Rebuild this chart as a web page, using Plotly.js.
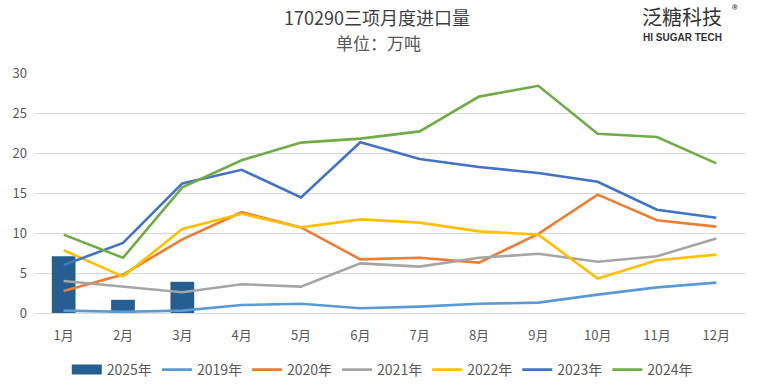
<!DOCTYPE html>
<html>
<head>
<meta charset="utf-8">
<script src="https://cdn.plot.ly/plotly-3.0.1.min.js"></script>
<style>html,body{margin:0;padding:0;background:#fff;}#chart{width:757px;height:387px;}</style>
</head>
<body>
<div id="chart"></div>
<script>
const months = ["1月","2月","3月","4月","5月","6月","7月","8月","9月","10月","11月","12月"];
const y2025 = [7.1, 1.65, 3.9];
const y2019 = [0.3, 0.15, 0.3, 1.0, 1.15, 0.6, 0.8, 1.15, 1.3, 2.3, 3.2, 3.8];
const y2020 = [2.75, 4.8, 9.2, 12.6, 10.7, 6.7, 6.9, 6.3, 9.9, 14.8, 11.6, 10.8];
const y2021 = [4.0, 3.3, 2.6, 3.6, 3.3, 6.2, 5.8, 6.9, 7.4, 6.4, 7.1, 9.3];
const y2022 = [7.85, 4.55, 10.5, 12.4, 10.7, 11.7, 11.3, 10.2, 9.8, 4.3, 6.6, 7.3];
const y2023 = [6.0, 8.75, 16.2, 17.9, 14.45, 21.35, 19.25, 18.25, 17.5, 16.4, 12.9, 11.9];
const y2024 = [9.8, 6.9, 15.7, 19.1, 21.3, 21.8, 22.7, 27.05, 28.4, 22.4, 22.0, 18.7];

const font = "'Noto Sans CJK SC', 'Noto Sans', sans-serif";
const narrow = "'Liberation Sans Narrow', 'Noto Sans CJK SC', sans-serif";
function line(name, y, color) {
  return {type:'scatter', mode:'lines', name:name, x:months.slice(0, y.length), y:y,
          line:{color:color, width:2.6}};
}
const barColor = '#255E91';
const data = [
  {type:'bar', name:'2025年', x:months.slice(0, y2025.length), y:y2025, marker:{color:barColor}, showlegend:false},
  // legend-only entry for the bar series (wide swatch)
  {type:'scatter', mode:'lines', name:'2025年', x:[null], y:[null], line:{color:barColor, width:10}},
  line('2019年', y2019, '#5B9BD5'),
  line('2020年', y2020, '#ED7D31'),
  line('2021年', y2021, '#A5A5A5'),
  line('2022年', y2022, '#FFC000'),
  line('2023年', y2023, '#4472C4'),
  line('2024年', y2024, '#70AD47')
];
const layout = {
  width:757, height:387,
  margin:{l:34, r:11, t:73, b:74},
  paper_bgcolor:'#fff', plot_bgcolor:'#fff',
  font:{family:font, color:'#595959', size:12},
  bargap:0.6,
  showlegend:true,
  legend:{orientation:'h', xref:'container', yref:'container', x:0.505, xanchor:'center',
          y:(387-370)/387, yanchor:'middle',
          font:{size:14, color:'#595959', family:narrow}, traceorder:'normal', itemwidth:30, tracegroupgap:0},
  xaxis:{type:'category', categoryorder:'array', categoryarray:months, range:[-0.5, 11.5],
         showgrid:false, showline:true, linecolor:'#D9D9D9', linewidth:1, ticks:'',
         tickfont:{size:13, color:'#595959'}, ticklabelstandoff:10, fixedrange:true},
  yaxis:{range:[0,30], dtick:5, showgrid:true, gridcolor:'#D9D9D9', gridwidth:1,
         zeroline:false, showline:false, ticks:'', tickfont:{size:13, color:'#595959'},
         ticklabelstandoff:6, fixedrange:true},
  annotations:[
    {text:'170290三项月度进口量', showarrow:false, font:{size:18, color:'#3F3F3F', family:font}},
    {text:'单位：万吨', showarrow:false, font:{size:17, color:'#595959', family:font}},
    {text:'泛糖科技', showarrow:false, font:{size:20, color:'#333333', family:font}},
    {text:'®', showarrow:false, font:{size:12, color:'#333333', family:font}},
    {text:'<b>HI SUGAR TECH</b>', showarrow:false, font:{size:10, color:'#333333', family:"'Liberation Sans', Arial, sans-serif"}}
  ]
};
const pos = [[377,17],[378,42],[682,17],[735,8],[682,37.5]];
layout.annotations.forEach((a,i)=>{
  a.xref='paper'; a.yref='paper'; a.xanchor='center'; a.yanchor='middle';
  const plotW = 757 - 34 - 11, plotH = 387 - 73 - 74;
  a.x = (pos[i][0] - 34) / plotW;
  a.y = (387 - 74 - pos[i][1]) / plotH;
});
Plotly.newPlot('chart', data, layout, {displayModeBar:false, staticPlot:true});
</script>
</body>
</html>
